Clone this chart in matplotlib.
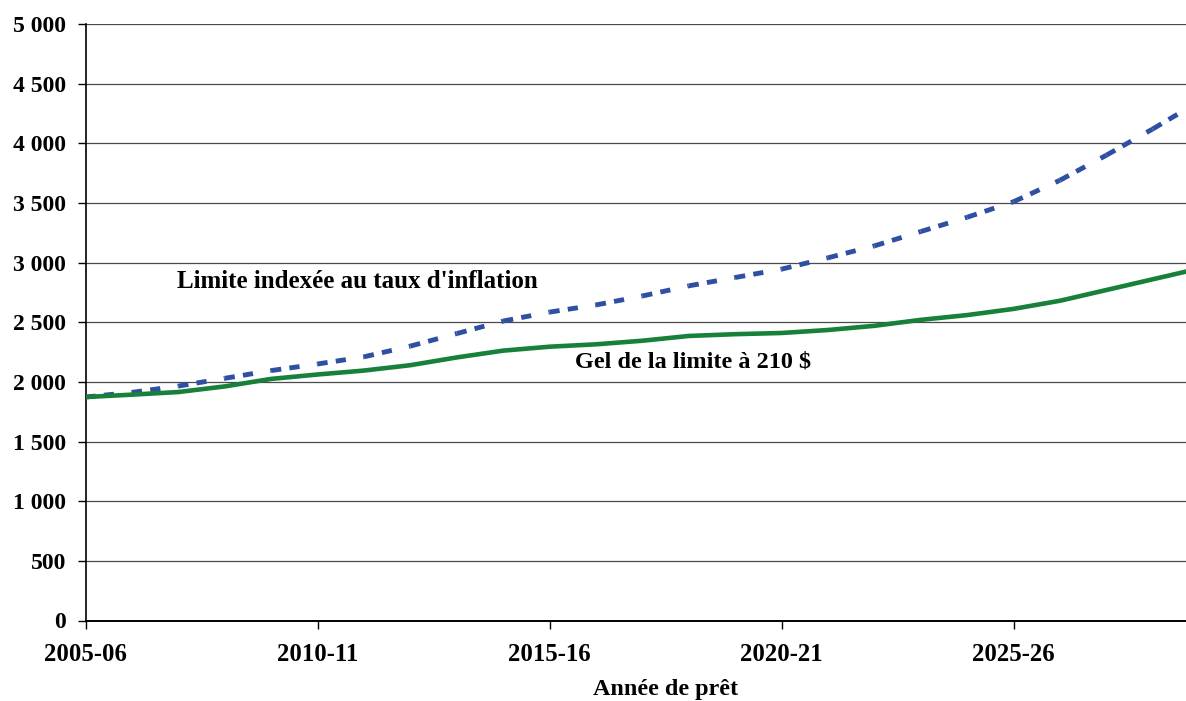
import matplotlib
matplotlib.use("Agg")
import matplotlib.pyplot as plt
from matplotlib.collections import LineCollection
import numpy as np

# ---------------- Data ----------------
years = ["2005-06", "2006-07", "2007-08", "2008-09", "2009-10",
         "2010-11", "2011-12", "2012-13", "2013-14", "2014-15",
         "2015-16", "2016-17", "2017-18", "2018-19", "2019-20",
         "2020-21", "2021-22", "2022-23", "2023-24", "2024-25",
         "2025-26", "2026-27", "2027-28", "2028-29", "2029-30"]

indexee = [1873, 1912, 1965, 2030, 2095, 2150, 2210, 2300, 2405, 2510,
           2585, 2645, 2720, 2805, 2875, 2945, 3040, 3140, 3260, 3380,
           3510, 3690, 3900, 4120, 4350]

gel = [1873, 1893, 1915, 1962, 2025, 2062, 2095, 2140, 2205, 2262,
       2295, 2315, 2345, 2385, 2400, 2410, 2435, 2470, 2520, 2560,
       2612, 2680, 2770, 2860, 2950]

y_ticks = [0, 500, 1000, 1500, 2000, 2500, 3000, 3500, 4000, 4500, 5000]
y_labels = ["0", "500", "1 000", "1 500", "2 000", "2 500", "3 000",
            "3 500", "4 000", "4 500", "5 000"]
x_label_years = ["2005-06", "2010-11", "2015-16", "2020-21", "2025-26"]

label_indexee = "Limite indexée au taux d'inflation"
label_gel = "Gel de la limite à 210 $"

# ---------------- Figure ----------------
plt.rcParams['font.family'] = ['Liberation Serif', 'DejaVu Serif']
plt.rcParams['font.weight'] = 'bold'

fig = plt.figure(figsize=(11.86, 7.01), dpi=100, facecolor="white")
ax = fig.add_axes([85.5 / 1186, 1 - 620.5 / 701, 1 - 85.5 / 1186, (620.5 - 24) / 701])

x = np.arange(len(years))

for yv in y_ticks[1:]:
    ax.axhline(yv, color="#4a4a4a", lw=0.9, zorder=1)

# inflation-indexed limit: dash pattern restarts on every yearly segment
pts = np.column_stack([x, indexee])
segs = [pts[i:i + 2] for i in range(len(pts) - 1)]
lc = LineCollection(segs, colors="#2f4fa2", linewidths=3.5,
                    linestyles=[(0, (2.1, 1.7, 2.1, 3.6))], capstyle="butt", zorder=3)
ax.add_collection(lc)

ax.plot(x, gel, color="#17803a", lw=3.3, solid_capstyle="butt", zorder=4)

ax.text(5.87, 2840, label_indexee, fontsize=18, fontweight="bold",
        ha="center", va="center")
ax.text(13.1, 2170, label_gel, fontsize=17.5, fontweight="bold",
        ha="center", va="center")

ax.set_xlim(0, (1186 - 85.5) / 46.4)
ax.set_ylim(0, 5000)

ax.set_yticks(y_ticks)
ax.set_yticklabels(y_labels, fontsize=17, fontweight="bold")
ticks_x = [years.index(y) for y in x_label_years]
ax.set_xticks(ticks_x)
ax.set_xticklabels(x_label_years, fontsize=17.8, fontweight="bold")
ax.tick_params(axis="y", direction="out", length=6, width=1, pad=8)
ax.tick_params(axis="x", direction="out", length=6, width=1, pad=10)

for side in ["top", "right"]:
    ax.spines[side].set_visible(False)
ax.spines["left"].set_linewidth(1.2)
ax.spines["bottom"].set_linewidth(1.4)

fig.text(666 / 1186, 1 - 689 / 701, "Année de prêt", fontsize=17.4,
         fontweight="bold", ha="center", va="center")

fig.savefig("out.png", dpi=100, facecolor="white")
